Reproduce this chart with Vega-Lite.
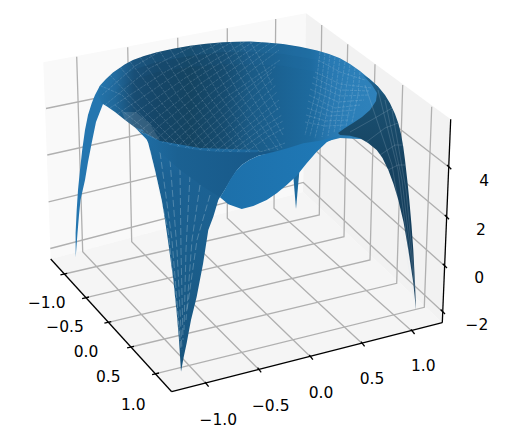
{"$schema":"https://vega.github.io/schema/vega-lite/v6.json","width":507,"height":438,"padding":0,"autosize":{"type":"fit","contains":"padding"},"view":{"stroke":null},"background":"white",
"datasets":{
"panes":[{"p":"left","x":[50.7,43.3,306,303,50.7],"y":[259,62.3,13.3,192,259],"i":[0,1,2,3,4]},{"p":"right","x":[303,306,450.7,442.3,303],"y":[192,13.3,119.3,322.7,192],"i":[0,1,2,3,4]},{"p":"floor","x":[50.7,303,442.3,171.7,50.7],"y":[259,192,322.7,391.7,259],"i":[0,1,2,3,4]}],
"grid":[{"g":"x1","x":[64.3,319.3,321.7],"y":[274,215,25],"i":[0,1,2]},{"g":"x2","x":[86,344,347.7],"y":[297.7,236.7,44.3],"i":[0,1,2]},{"g":"x3","x":[108.3,370,375],"y":[322.3,260,64.3],"i":[0,1,2]},{"g":"x4","x":[131,396.7,402.7],"y":[347,283.3,85],"i":[0,1,2]},{"g":"x5","x":[156,424.3,431.7],"y":[373.7,307.3,106.7],"i":[0,1,2]},{"g":"y1","x":[206.7,82.7,76.7],"y":[384.3,251.7,56.7],"i":[0,1,2]},{"g":"y2","x":[259.3,131.7,127.7],"y":[370,241.7,47.3],"i":[0,1,2]},{"g":"y3","x":[311,179.7,177.7],"y":[357.3,230,37.7],"i":[0,1,2]},{"g":"y4","x":[362.7,227.3,227.3],"y":[344,218.3,28.3],"i":[0,1,2]},{"g":"y5","x":[412.7,274,275.7],"y":[331.7,208.3,19],"i":[0,1,2]},{"g":"z1","x":[50.3,303.3,442.8],"y":[248.5,182.4,312],"i":[0,1,2]},{"g":"z2","x":[48.6,303.8,444.7],"y":[201.8,140,266],"i":[0,1,2]},{"g":"z3","x":[47.3,304.5,446.7],"y":[155,97.6,217],"i":[0,1,2]},{"g":"z4","x":[46,305,448.8],"y":[108.5,55.2,167],"i":[0,1,2]}],
"axes":[{"g":"xa","x":[50.7,171.7],"y":[259,391.7],"i":[0,1]},{"g":"ya","x":[171.7,442.3],"y":[391.7,322.7],"i":[0,1]},{"g":"za","x":[442.3,450.7],"y":[322.7,119.3],"i":[0,1]},{"g":"tx1","x":[60.4,67.2],"y":[274.9,273.3],"i":[0,1]},{"g":"tx2","x":[82.1,89],"y":[298.6,297],"i":[0,1]},{"g":"tx3","x":[104.4,111.3],"y":[323.2,321.6],"i":[0,1]},{"g":"tx4","x":[127.1,134],"y":[347.9,346.3],"i":[0,1]},{"g":"tx5","x":[152.1,159],"y":[374.6,373],"i":[0,1]},{"g":"ty1","x":[205,208.6],"y":[382,386.6],"i":[0,1]},{"g":"ty2","x":[257.6,261.2],"y":[367.7,372.3],"i":[0,1]},{"g":"ty3","x":[309.3,312.9],"y":[355,359.6],"i":[0,1]},{"g":"ty4","x":[361,364.6],"y":[341.7,346.3],"i":[0,1]},{"g":"ty5","x":[411,414.6],"y":[329.4,334],"i":[0,1]},{"g":"tz1","x":[440.6,445],"y":[309.5,314],"i":[0,1]},{"g":"tz2","x":[442.7,447],"y":[263.8,268],"i":[0,1]},{"g":"tz3","x":[444.8,449],"y":[215,219.3],"i":[0,1]},{"g":"tz4","x":[447,451.3],"y":[165,169.3],"i":[0,1]}],
"surf":[
{"p":"spike","x":[293.3,296,299.3,293.3],"y":[176,209,172,176],"i":[0,1,2,3]},
{"p":"farwing","x":[100,95,91.7,88,85,82.2,80,78,76.7,75.6,75.7,77.5,79,80.5,85,88,91.7,96,103,108],"y":[85.5,95,103.3,115,130,150,170,190,210,233,257.3,233,215,200,180,162,143,122,104,95],"i":[0,1,2,3,4,5,6,7,8,9,10,11,12,13,14,15,16,17,18,19]},
{"p":"bowl","x":[100,106,113,125,133,144,157,173,190,206,223,237,250,266,283,300,317,329,340,350,360,369,378,378,340,320,303,290,276.7,258,240,218,196.7,178,160,150,143,135,125,115,107,101.7,98],"y":[85.5,79,72.5,64.2,60,56,52.2,48.7,45.8,43.7,42.3,41.7,41.6,42.4,44,46.8,50.6,54,58.3,64,71,78.5,86.7,140,138,143,147,150,154,155,154,151.7,150,146.8,142,137.5,133,127.5,120,112,106.5,103.3,95],"i":[0,1,2,3,4,5,6,7,8,9,10,11,12,13,14,15,16,17,18,19,20,21,22,23,24,25,26,27,28,29,30,31,32,33,34,35,36,37,38,39,40,41,42]},
{"p":"rim1","x":[100,113,133,157,190,223,250,283,317,340,340,317,283,250,223,190,157,133,113,108],"y":[85.5,72.5,60,52.2,45.8,42.3,41.6,44,50.6,58.3,82,72,66,64,64,67,72,80,92,95],"i":[0,1,2,3,4,5,6,7,8,9,10,11,12,13,14,15,16,17,18,19]},
{"p":"rim2","x":[100,113,133,157,190,223,250,283,317,340,340,317,283,250,223,190,157,133,113,104],"y":[85.5,72.5,60,52.2,45.8,42.3,41.6,44,50.6,58.3,68,60,54,52,52,56,62,70,82,92],"i":[0,1,2,3,4,5,6,7,8,9,10,11,12,13,14,15,16,17,18,19]},
{"p":"spot","x":[122,136,150,160,152,143,135,125],"y":[112,112,124,140,138,133,127.5,120],"i":[0,1,2,3,4,5,6,7]},
{"p":"rightwing","x":[363,369,378.3,385,390,395,398.3,401,403.3,405,407.5,409.3,411.5,413.3,415,416,413.3,408.3,403.5,398.3,393.5,388.3,382.5,376.7,368,360,350,340,338,345,353,362,370,376,377,372],"y":[75,78.5,86.7,95,103.3,114,123.3,134,147,160,182,200,225,250,283,310,283,250,222,200,184,170,158,150,143,138.3,135.7,135,133,128,123,117,110,101,93,85],"i":[0,1,2,3,4,5,6,7,8,9,10,11,12,13,14,15,16,17,18,19,20,21,22,23,24,25,26,27,28,29,30,31,32,33,34,35]},
{"p":"frontwing","x":[135,143,148.3,155,161.7,165,168.3,173.3,176.7,179,181,183.5,186.7,191,196.7,203,208.3,213.3,218.3,220,240,260,200,160],"y":[127.5,130,143.3,170,200,220,243,280,313,340,371.7,358,343,320,296.7,264,230,216.7,200,197,165,150,148,141],"i":[0,1,2,3,4,5,6,7,8,9,10,11,12,13,14,15,16,17,18,19,20,21,22,23]},
{"p":"band","x":[135,143,160,178,196.7,218,240,258,276.7,258.3,249.3,241.7,236,230,225,220,205,180,155],"y":[127.5,133,142,146.8,150,151.7,152.3,152.3,150.7,155.7,160,165,171,180,189.3,197.3,188,170,148],"i":[0,1,2,3,4,5,6,7,8,9,10,11,12,13,14,15,16,17,18]},
{"p":"lip","x":[220,225,230,236,241.7,249.3,258.3,276.7,288.3,303.3,320,340,326.7,316.7,306.7,296.7,286.7,276.7,266.7,253.3,241.7,228.3],"y":[197.3,189.3,180,171,165,160,155.7,151.2,148,143.3,140.7,135.5,142.3,151.7,163.3,175.7,185,193.3,200,206,209,204.3],"i":[0,1,2,3,4,5,6,7,8,9,10,11,12,13,14,15,16,17,18,19,20,21]}],
"mesh":[
{"m":"a0","x":[100,122,170],"y":[85.5,95,145],"i":[0,1,2]},{"m":"a01","x":[115,140,155],"y":[105,125,139],"i":[0,1,2]},{"m":"a1","x":[110,140,180],"y":[75,107,147],"i":[0,1,2]},{"m":"a2","x":[120,150,190],"y":[67,103,149],"i":[0,1,2]},{"m":"a3","x":[130,160,200],"y":[61.5,101,150],"i":[0,1,2]},{"m":"a4","x":[140,170,210],"y":[57,100,151],"i":[0,1,2]},{"m":"a5","x":[150,180,220],"y":[54,99,152],"i":[0,1,2]},{"m":"a6","x":[160,190,230],"y":[51.5,98,152],"i":[0,1,2]},{"m":"a7","x":[170,200,240],"y":[49,97,152],"i":[0,1,2]},{"m":"a8","x":[180,210,250],"y":[47.5,97,152.5],"i":[0,1,2]},{"m":"a9","x":[190,220,260],"y":[45.8,96,152.3],"i":[0,1,2]},{"m":"a10","x":[200,230,270],"y":[44.5,95,151],"i":[0,1,2]},{"m":"a11","x":[210,240,278],"y":[43.5,95,150],"i":[0,1,2]},{"m":"a12","x":[220,248,282],"y":[42.5,90,148],"i":[0,1,2]},{"m":"a13","x":[230,252,283],"y":[42,80,135],"i":[0,1,2]},{"m":"a14","x":[240,258,278],"y":[41.7,72,110],"i":[0,1,2]},{"m":"a15","x":[250,262,272],"y":[41.6,62,85],"i":[0,1,2]},
{"m":"b0","x":[102,135,160],"y":[95,66,51.5],"i":[0,1,2]},{"m":"b01","x":[105,150,195],"y":[105,68,45],"i":[0,1,2]},{"m":"b1","x":[110,165,220],"y":[108,72,42.5],"i":[0,1,2]},{"m":"b15","x":[117.5,175,232],"y":[114,75,42],"i":[0,1,2]},{"m":"b2","x":[125,185,245],"y":[120,78,41.7],"i":[0,1,2]},{"m":"b25","x":[132,192,253],"y":[126,81,42],"i":[0,1,2]},{"m":"b3","x":[140,200,262],"y":[131,84,42],"i":[0,1,2]},{"m":"b35","x":[147,207,270],"y":[136,87,43],"i":[0,1,2]},{"m":"b4","x":[155,215,278],"y":[140,90,43.5],"i":[0,1,2]},{"m":"b45","x":[162,220,279],"y":[143,94,50],"i":[0,1,2]},{"m":"b5","x":[170,225,280],"y":[145,98,60],"i":[0,1,2]},{"m":"b55","x":[177,230,276],"y":[147,101,66],"i":[0,1,2]},{"m":"b6","x":[185,235,272],"y":[148,105,72],"i":[0,1,2]},{"m":"b65","x":[192,240,274],"y":[149,108,78],"i":[0,1,2]},{"m":"b7","x":[200,245,276],"y":[150,112,85],"i":[0,1,2]},{"m":"b75","x":[207,250,277],"y":[151,116,92],"i":[0,1,2]},{"m":"b8","x":[215,255,279],"y":[151.7,120,100],"i":[0,1,2]},{"m":"b85","x":[222,258,280],"y":[152,124,107],"i":[0,1,2]},{"m":"b9","x":[230,262,282],"y":[152,128,115],"i":[0,1,2]},{"m":"b95","x":[237,265,283],"y":[152,132,121],"i":[0,1,2]},{"m":"b10","x":[245,268,284],"y":[152.5,137,128],"i":[0,1,2]},{"m":"b11","x":[260,273,285],"y":[152,148,143],"i":[0,1,2]},
{"m":"c1","x":[305,325,345],"y":[122,126,125],"i":[0,1,2]},{"m":"c15","x":[306,326,348],"y":[115,121,120],"i":[0,1,2]},{"m":"c2","x":[307,328,350],"y":[108,116,115],"i":[0,1,2]},{"m":"c25","x":[308,332,355],"y":[101,112,110],"i":[0,1,2]},{"m":"c3","x":[309,335,360],"y":[95,108,105],"i":[0,1,2]},{"m":"c35","x":[310,338,364],"y":[89,102,100],"i":[0,1,2]},{"m":"c4","x":[312,340,368],"y":[83,96,95],"i":[0,1,2]},{"m":"c45","x":[313,340,370],"y":[77,90,91],"i":[0,1,2]},{"m":"c5","x":[315,340,372],"y":[72,84,88],"i":[0,1,2]},{"m":"c6","x":[318,340,365],"y":[60,72,80],"i":[0,1,2]},
{"m":"d1","x":[320,315,305],"y":[52,95,135],"i":[0,1,2]},{"m":"d15","x":[325,320,310],"y":[53,95,136],"i":[0,1,2]},{"m":"d2","x":[330,325,315],"y":[55,95,138],"i":[0,1,2]},{"m":"d25","x":[335,330,322],"y":[57,95,137],"i":[0,1,2]},{"m":"d3","x":[340,335,328],"y":[59,95,136],"i":[0,1,2]},{"m":"d35","x":[345,340,334],"y":[62,95,133],"i":[0,1,2]},{"m":"d4","x":[350,345,340],"y":[65,95,130],"i":[0,1,2]},{"m":"d45","x":[355,352,346],"y":[68,95,126],"i":[0,1,2]},{"m":"d5","x":[360,358,352],"y":[72,95,122],"i":[0,1,2]},
{"m":"e1","x":[150,168,180],"y":[150,230,340],"i":[0,1,2]},{"m":"e2","x":[160,172,181],"y":[152,240,350],"i":[0,1,2]},{"m":"e3","x":[170,177,182],"y":[160,250,350],"i":[0,1,2]},{"m":"e4","x":[180,181,183],"y":[168,250,340],"i":[0,1,2]},{"m":"e5","x":[190,186,184],"y":[175,250,330],"i":[0,1,2]},{"m":"e6","x":[200,192,186],"y":[185,240,320],"i":[0,1,2]},{"m":"e7","x":[210,197,187],"y":[195,240,310],"i":[0,1,2]},
{"m":"f1","x":[365,392,414],"y":[85,165,300],"i":[0,1,2]},{"m":"f2","x":[378,398,415],"y":[90,170,300],"i":[0,1,2]},{"m":"f3","x":[385,402,415],"y":[100,180,290],"i":[0,1,2]},{"m":"f4","x":[392,406,415.5],"y":[110,190,290],"i":[0,1,2]},{"m":"f5","x":[350,375,392],"y":[132,118,108],"i":[0,1,2]},{"m":"f6","x":[365,385,398],"y":[143,128,123],"i":[0,1,2]},{"m":"f7","x":[380,395,403],"y":[155,145,145],"i":[0,1,2]},{"m":"f8","x":[388,398,405],"y":[170,165,165],"i":[0,1,2]}],
"labels":[{"t":"−1.0","x":46.7,"y":303.3},{"t":"−0.5","x":65,"y":327.3},{"t":"0.0","x":86,"y":352},{"t":"0.5","x":108.3,"y":377.3},{"t":"1.0","x":133.3,"y":405},{"t":"−1.0","x":218.3,"y":420},{"t":"−0.5","x":270.7,"y":406},{"t":"0.0","x":321,"y":392.7},{"t":"0.5","x":372,"y":379},{"t":"1.0","x":423.3,"y":365.7},{"t":"−2","x":477,"y":325},{"t":"0","x":479.3,"y":277.7},{"t":"2","x":481,"y":230},{"t":"4","x":484.3,"y":180.7}]
},
"encoding":{"x":{"field":"x","type":"quantitative","axis":null,"scale":{"domain":[0,507],"nice":false,"zero":false}},"y":{"field":"y","type":"quantitative","axis":null,"scale":{"domain":[438,0],"nice":false,"zero":false}},"order":{"field":"i","type":"quantitative"}},
"layer":[
{"data":{"name":"panes"},"transform":[{"flatten":["x","y","i"]}],"mark":{"type":"line","strokeWidth":0},"encoding":{"fill":{"field":"p","type":"nominal","legend":null,"scale":{"domain":["left","right","floor"],"range":["#f9f9f9","#f2f2f2","#f5f5f5"]}},"detail":{"field":"p"}}},
{"data":{"name":"grid"},"transform":[{"flatten":["x","y","i"]}],"mark":{"type":"line","color":"#b0b0b0","strokeWidth":1.3},"encoding":{"detail":{"field":"g"}}},
{"data":{"name":"axes"},"transform":[{"flatten":["x","y","i"]}],"mark":{"type":"line","color":"#000000","strokeWidth":1.3},"encoding":{"detail":{"field":"g"}}},
{"data":{"name":"surf"},"transform":[{"filter":"datum.p=='spike'"},{"flatten":["x","y","i"]}],"mark":{"type":"line","strokeWidth":0,"fill":"#1d6a9e"}},
{"data":{"name":"surf"},"transform":[{"filter":"datum.p=='farwing'"},{"flatten":["x","y","i"]}],"mark":{"type":"line","strokeWidth":0,"fill":"#2476b0"}},
{"data":{"name":"surf"},"transform":[{"filter":"datum.p=='bowl'"},{"flatten":["x","y","i"]}],"mark":{"type":"line","strokeWidth":0,"fill":{"gradient":"linear","x1":0,"y1":0,"x2":1,"y2":0,"stops":[{"offset":0,"color":"#2474aa"},{"offset":0.06,"color":"#20689a"},{"offset":0.13,"color":"#184c72"},{"offset":0.21,"color":"#154668"},{"offset":0.33,"color":"#144462"},{"offset":0.45,"color":"#164c70"},{"offset":0.54,"color":"#1a5a85"},{"offset":0.66,"color":"#1b6394"},{"offset":0.76,"color":"#1d6a9e"},{"offset":0.83,"color":"#2878b0"},{"offset":0.9,"color":"#2c7fb8"},{"offset":1,"color":"#2f82bb"}]}}},
{"data":{"name":"surf"},"transform":[{"filter":"datum.p=='rim1'"},{"flatten":["x","y","i"]}],"mark":{"type":"line","strokeWidth":0,"fill":"#2f8ac6","fillOpacity":0.06}},
{"data":{"name":"surf"},"transform":[{"filter":"datum.p=='rim2'"},{"flatten":["x","y","i"]}],"mark":{"type":"line","strokeWidth":0,"fill":"#2f8ac6","fillOpacity":0.1}},
{"data":{"name":"surf"},"transform":[{"filter":"datum.p=='frontwing'"},{"flatten":["x","y","i"]}],"mark":{"type":"line","strokeWidth":0,"fill":{"gradient":"linear","x1":0,"y1":0,"x2":0,"y2":1,"stops":[{"offset":0,"color":"#1f6ea5"},{"offset":0.2,"color":"#1c6294"},{"offset":0.5,"color":"#1b5f8d"},{"offset":1,"color":"#17537c"}]}}},
{"data":{"name":"mesh"},"transform":[{"filter":"test(/^[e]/,datum.m)"},{"flatten":["x","y","i"]}],"mark":{"type":"line","color":"#d6e4ee","strokeWidth":0.8,"opacity":0.35,"strokeDash":[7,3]},"encoding":{"detail":{"field":"m"}}},
{"data":{"name":"mesh"},"transform":[{"filter":"test(/^[abcd]/,datum.m)"},{"flatten":["x","y","i"]}],"mark":{"type":"line","color":"#d6e4ee","strokeWidth":0.7,"opacity":0.25,"strokeDash":[3,1]},"encoding":{"detail":{"field":"m"}}},
{"data":{"name":"surf"},"transform":[{"filter":"datum.p=='spot'"},{"flatten":["x","y","i"]}],"mark":{"type":"line","strokeWidth":0,"fill":"#ffffff","fillOpacity":0.12}},
{"data":{"name":"surf"},"transform":[{"filter":"datum.p=='rightwing'"},{"flatten":["x","y","i"]}],"mark":{"type":"line","strokeWidth":0,"fill":{"gradient":"linear","x1":0,"y1":0,"x2":0,"y2":1,"stops":[{"offset":0,"color":"#1f6a9c"},{"offset":0.1,"color":"#1a5071"},{"offset":0.4,"color":"#164260"},{"offset":1,"color":"#123a58"}]}}},
{"data":{"name":"mesh"},"transform":[{"filter":"test(/^[f]/,datum.m)"},{"flatten":["x","y","i"]}],"mark":{"type":"line","color":"#d6e4ee","strokeWidth":0.7,"opacity":0.25},"encoding":{"detail":{"field":"m"}}},
{"data":{"name":"surf"},"transform":[{"filter":"datum.p=='band'"},{"flatten":["x","y","i"]}],"mark":{"type":"line","strokeWidth":0,"fill":{"gradient":"linear","x1":0,"y1":0,"x2":1,"y2":0,"stops":[{"offset":0,"color":"#2070a8"},{"offset":0.3,"color":"#1b6192"},{"offset":1,"color":"#175787"}]}}},
{"data":{"name":"surf"},"transform":[{"filter":"datum.p=='lip'"},{"flatten":["x","y","i"]}],"mark":{"type":"line","strokeWidth":0,"fill":{"gradient":"linear","x1":0,"y1":0,"x2":1,"y2":0,"stops":[{"offset":0,"color":"#1d70aa"},{"offset":1,"color":"#1f79b7"}]}}},
{"data":{"name":"labels"},"mark":{"type":"text","font":"DejaVu Sans","fontSize":15.5,"color":"#000000","align":"center","baseline":"middle"},"encoding":{"text":{"field":"t"},"order":null}}
]}
